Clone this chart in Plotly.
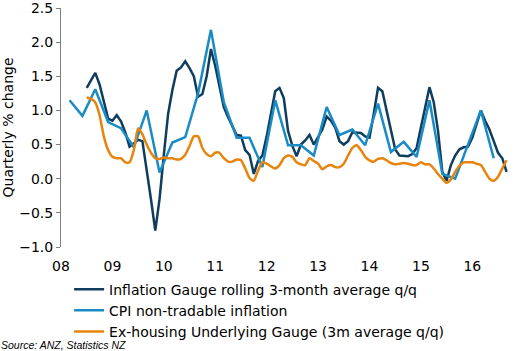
import pandas as pd
import plotly.graph_objects as go

# ---------------- data ----------------
gauge_start, gauge_end = "2008-07", "2016-09"
gauge_values = [
    1.33, 1.45, 1.55, 1.38, 1.12, 0.88, 0.85, 0.93, 0.84, 0.68,   # Jul08-Apr09
    0.47, 0.52, 0.57, 0.55, 0.15, -0.30, -0.76, -0.30, 0.35, 0.95,  # May09-Feb10
    1.30, 1.58, 1.63, 1.72, 1.62, 1.50, 1.20, 1.24, 1.50, 1.90,   # Mar10-Dec10
    1.65, 1.35, 1.05, 0.90, 0.78, 0.64, 0.63, 0.42, 0.35, 0.07,   # Jan11-Oct11
    0.26, 0.34, 0.62, 0.95, 1.28, 1.33, 1.18, 0.70, 0.48, 0.33,   # Nov11-Aug12
    0.50, 0.56, 0.64, 0.50, 0.60, 0.72, 0.91, 0.85, 0.75, 0.55,   # Sep12-Jun13
    0.50, 0.55, 0.68, 0.68, 0.67, 0.62, 0.60, 0.95, 1.33, 1.28,   # Jul13-Apr14
    1.00, 0.70, 0.43, 0.34, 0.33, 0.33, 0.36, 0.45, 0.75, 1.05,   # May14-Feb15
    1.34, 1.12, 0.70, 0.10, -0.03, 0.20, 0.34, 0.43, 0.46, 0.47,  # Mar15-Dec15
    0.60, 0.80, 1.00, 0.85, 0.72, 0.55, 0.38, 0.30, 0.10,         # Jan16-Sep16
]

cpi_start, cpi_end = "2008Q1", "2016Q2"
cpi_values = [
    1.15, 0.92, 1.31, 0.83, 0.74, 0.46, 1.00, 0.09, 0.53, 0.61,
    1.25, 2.18, 1.12, 0.60, 0.60, 0.17, 1.15, 0.49, 0.49, 0.34,
    1.05, 0.64, 0.72, 0.49, 1.10, 0.39, 0.54, 0.32, 1.15, 0.07,
    0.00, 0.50, 1.00, 0.30,
]

exh_start, exh_end = "2008-07", "2016-09"
exh_values = [
    1.19, 1.17, 1.12, 0.93, 0.62, 0.42, 0.32, 0.30, 0.30, 0.24,
    0.24, 0.42, 0.74, 0.65, 0.50, 0.38, 0.30, 0.29, 0.31, 0.30,
    0.30, 0.28, 0.29, 0.35, 0.48, 0.62, 0.62, 0.45, 0.36, 0.33,
    0.38, 0.38, 0.30, 0.25, 0.25, 0.28, 0.27, 0.15, 0.01, -0.03,
    0.12, 0.24, 0.22, 0.18, 0.15, 0.20, 0.30, 0.34, 0.32, 0.24,
    0.21, 0.20, 0.30, 0.26, 0.22, 0.14, 0.18, 0.20, 0.17, 0.17,
    0.22, 0.34, 0.45, 0.49, 0.42, 0.32, 0.27, 0.25, 0.29, 0.30,
    0.27, 0.23, 0.21, 0.22, 0.23, 0.22, 0.20, 0.20, 0.24, 0.21,
    0.21, 0.15, 0.07, 0.00, -0.06, -0.01, 0.10, 0.19, 0.24, 0.24,
    0.24, 0.22, 0.20, 0.10, 0.00, -0.03, 0.03, 0.15, 0.27,
]

year_ticks = list(range(2008, 2017))
year_labels = ["08", "09", "10", "11", "12", "13", "14", "15", "16"]
y_ticks = [-1.0, -0.5, 0.0, 0.5, 1.0, 1.5, 2.0, 2.5]

names = [
    "Inflation Gauge rolling 3-month average q/q",
    "CPI non-tradable inflation",
    "Ex-housing Underlying Gauge (3m average q/q)",
]
colors = ["#0F3D5E", "#1A8BC4", "#E8830C"]

# ---------------- helpers ----------------
def month_pos(periods):
    # month position on a category-like monthly axis, in years
    return [p.year + (p.month - 1) / 12 for p in periods]

g_per = pd.period_range(gauge_start, gauge_end, freq="M")
c_per = pd.period_range(cpi_start, cpi_end, freq="Q").asfreq("M", how="end")
e_per = pd.period_range(exh_start, exh_end, freq="M")
assert len(g_per) == len(gauge_values), (len(g_per), len(gauge_values))
assert len(c_per) == len(cpi_values), (len(c_per), len(cpi_values))
assert len(e_per) == len(exh_values), (len(e_per), len(exh_values))

FONT = "DejaVu Sans"
FS = 14
x_range = [2008, 2008 + 104.8 / 12]

fig = go.Figure()
fig.add_trace(go.Scatter(x=month_pos(g_per), y=gauge_values, mode="lines",
                         name=names[0], line=dict(color=colors[0], width=2.5)))
fig.add_trace(go.Scatter(x=month_pos(c_per), y=cpi_values, mode="lines",
                         name=names[1], line=dict(color=colors[1], width=2.5)))
fig.add_trace(go.Scatter(x=month_pos(e_per), y=exh_values, mode="lines",
                         name=names[2],
                         line=dict(color=colors[2], width=2.5, shape="spline", smoothing=0.6)))

fig.update_layout(
    width=522, height=351,
    margin=dict(l=61, r=12, t=8, b=104, autoexpand=False),
    paper_bgcolor="white", plot_bgcolor="white",
    font=dict(family=FONT, size=FS, color="#000000"),
    showlegend=True,
    legend=dict(x=0.018, y=-0.111, xanchor="left", yanchor="top",
                bgcolor="rgba(0,0,0,0)", font=dict(family=FONT, size=FS),
                tracegroupgap=0),
    xaxis=dict(range=x_range, tickvals=year_ticks, ticktext=year_labels,
               showline=False, showgrid=False, zeroline=False, automargin=False,
               ticks="outside", ticklen=6, tickcolor="rgba(0,0,0,0)",
               ticklabeloverflow="allow",
               tickfont=dict(family=FONT, size=FS)),
    xaxis2=dict(range=x_range, overlaying="x", anchor="free", position=1 / 3.5,
                tickvals=year_ticks, showticklabels=False, automargin=False,
                showline=True, linecolor="#7F7F7F", linewidth=1,
                ticks="outside", ticklen=4, tickcolor="#7F7F7F",
                showgrid=False, zeroline=False),
    yaxis=dict(range=[-1.0, 2.5], tickvals=y_ticks, tickformat=".1f",
               showline=True, linecolor="#7F7F7F", linewidth=1, automargin=False,
               ticks="outside", ticklen=4, tickcolor="#7F7F7F",
               showgrid=False, zeroline=False, ticklabeloverflow="allow",
               tickfont=dict(family=FONT, size=FS),
               title=dict(text="Quarterly % change", standoff=6,
                          font=dict(family=FONT, size=FS))),
    annotations=[dict(text="Source: ANZ, Statistics NZ", xref="paper", yref="paper",
                      x=-0.138, y=-0.41, xanchor="left", yanchor="middle",
                      showarrow=False,
                      font=dict(family="Liberation Sans Narrow, Liberation Sans",
                                size=10.5, style="italic", color="#000000"))],
)

fig.write_html("out.html")
